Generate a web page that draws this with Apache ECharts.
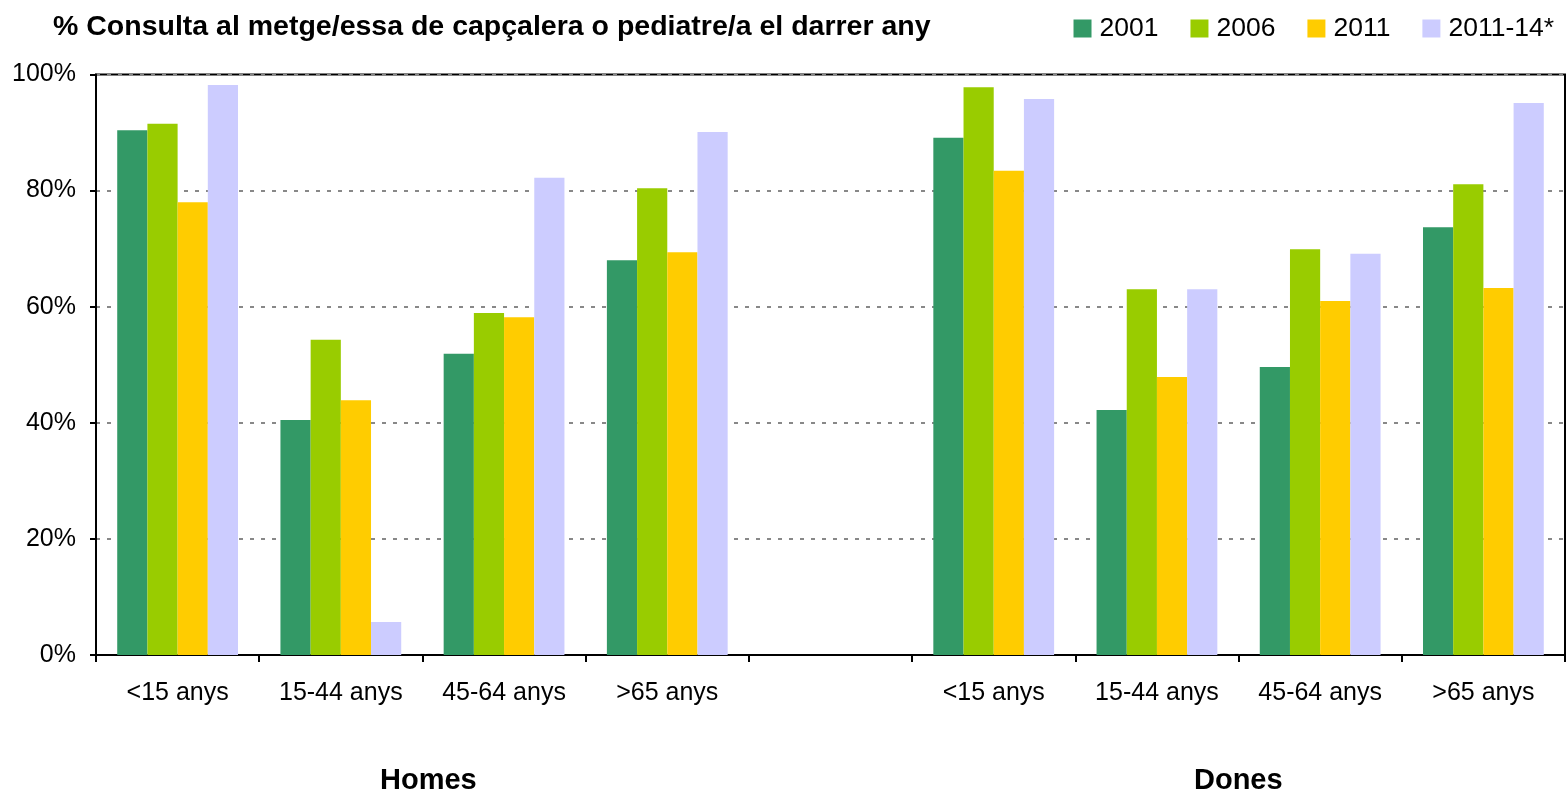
<!DOCTYPE html>
<html>
<head>
<meta charset="utf-8">
<script src="https://cdn.jsdelivr.net/npm/echarts@6/dist/echarts.min.js"></script>
<style>
html,body{margin:0;padding:0;background:#fff;}
#chart{width:1568px;height:793px;}
</style>
</head>
<body>
<div id="chart"></div>
<script>
const categories = ['<15 anys', '15-44 anys', '45-64 anys', '>65 anys', '', '<15 anys', '15-44 anys', '45-64 anys', '>65 anys'];
const seriesNames = ['2001', '2006', '2011', '2011-14*'];
const s2001 = [90.4, 40.5, 51.9, 68.0, null, 89.1, 42.2, 49.6, 73.7];
const s2006 = [91.5, 54.3, 58.9, 80.4, null, 97.8, 63.0, 69.9, 81.1];
const s2011 = [78.0, 43.9, 58.2, 69.4, null, 83.4, 47.9, 61.0, 63.2];
const s201114 = [98.2, 5.7, 82.2, 90.1, null, 95.8, 63.0, 69.1, 95.1];
const colors = ['#339966', '#99CC00', '#FFCC00', '#CCCCFF'];
const yTicks = [0, 20, 40, 60, 80, 100];
const titleText = '% Consulta al metge/essa de capçalera o pediatre/a el darrer any';
const groupLabels = ['Homes', 'Dones'];

const FONT = '"Liberation Sans", Arial, sans-serif';
const allData = [s2001, s2006, s2011, s201114];

const chart = echarts.init(document.getElementById('chart'), null, {renderer: 'canvas'});
chart.setOption({
  animation: false,
  backgroundColor: '#fff',
  title: {
    text: titleText,
    left: 48, top: 8,
    textStyle: {fontFamily: FONT, fontWeight: 'bold', fontSize: 28.5, color: '#000'}
  },
  legend: {
    right: 14, top: 15,
    itemWidth: 18, itemHeight: 18, itemGap: 32,
    icon: 'rect',
    padding: 0,
    textStyle: {fontFamily: FONT, fontSize: 26.5, color: '#000', padding: [0, 0, 0, 3]},
    data: seriesNames
  },
  grid: {
    left: 96, right: 3, top: 74.5, bottom: 138,
    show: true, borderColor: '#000', borderWidth: 2, backgroundColor: 'transparent'
  },
  xAxis: {
    type: 'category',
    data: categories,
    axisLine: {lineStyle: {color: '#000', width: 2}},
    axisTick: {show: true, length: 7, lineStyle: {color: '#000', width: 2}},
    axisLabel: {fontFamily: FONT, fontSize: 25, color: '#000', margin: 26},
  },
  yAxis: {
    type: 'value',
    min: 0, max: 100, interval: 20,
    axisLine: {show: true, lineStyle: {color: '#000', width: 2}},
    axisTick: {show: true, length: 6, lineStyle: {color: '#000', width: 2}},
    axisLabel: {fontFamily: FONT, fontSize: 25, color: '#000', margin: 20,
      formatter: v => yTicks.includes(v) ? v + '%' : ''},
    splitLine: {lineStyle: {color: '#888', width: 2, type: [4, 7]}}
  },
  series: seriesNames.map((n, i) => ({
    name: n, type: 'bar', data: allData[i],
    barGap: '0%', barCategoryGap: '26%',
    itemStyle: {color: colors[i]}
  })),
  graphic: [
    {type: 'text', left: 380, top: 766, style: {text: groupLabels[0], font: 'bold 29px ' + FONT, fill: '#000'}},
    {type: 'text', left: 1194, top: 766, style: {text: groupLabels[1], font: 'bold 29px ' + FONT, fill: '#000'}}
  ]
});
</script>
</body>
</html>
